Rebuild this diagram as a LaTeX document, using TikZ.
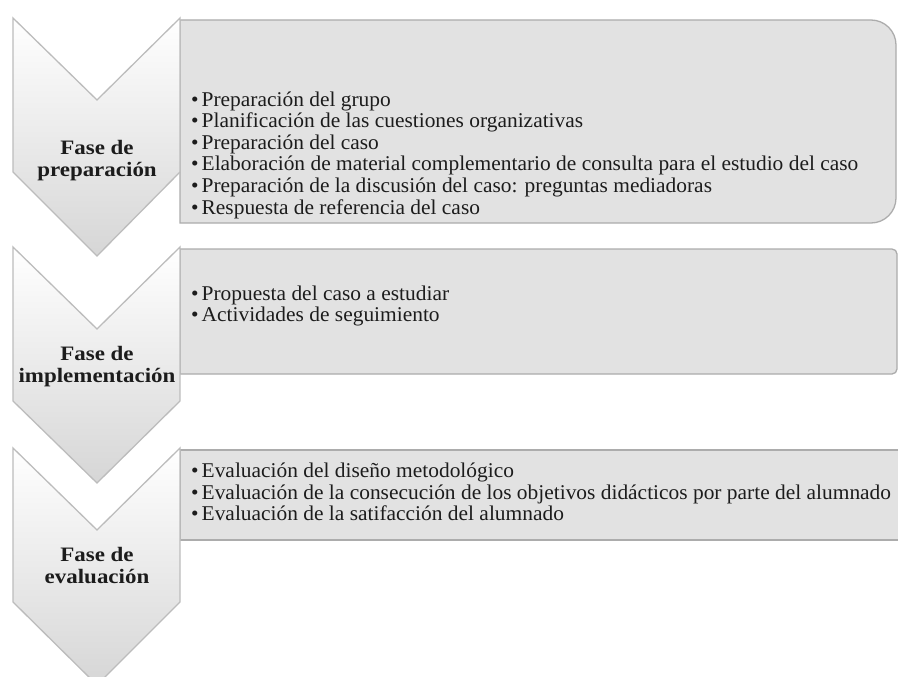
\documentclass[tikz,border=0pt]{standalone}
\usepackage{fontspec}
\setmainfont{Liberation Serif}
\newfontfamily\bodyfont[FakeStretch=1.02]{Liberation Serif}
\newfontfamily\phasefont[FakeStretch=1.12]{Liberation Serif}
\definecolor{chevline}{RGB}{188,188,188}
\definecolor{chevshade}{RGB}{214,214,214}
\definecolor{boxline}{RGB}{172,172,172}
\definecolor{boxfill}{RGB}{226,226,226}
\definecolor{ink}{RGB}{28,28,28}

\begin{document}
\begin{tikzpicture}[x=1pt,y=1pt,
    chevron/.style={draw=chevline,line width=1.3pt,line join=miter,top color=white,bottom color=chevshade},
    itembox/.style={draw=boxline,fill=boxfill,line width=1.3pt},
    phasetext/.style={font=\phasefont\bfseries\fontsize{20.5}{22}\selectfont,align=center,text=ink,inner sep=0pt},
    items/.style={font=\bodyfont\fontsize{21}{21.6}\selectfont,align=left,anchor=west,text=ink,inner sep=0pt}]
  \useasboundingbox (0,0) rectangle (898,-677);
  \clip (0,0) rectangle (898,-677);

  \draw[itembox] (180,-20) -- (871,-20) arc (90:0:25) -- (896,-198) arc (0:-90:25) -- (180,-223) -- cycle;
  \draw[itembox] (180,-249) -- (892,-249) arc (90:0:5) -- (897,-369) arc (0:-90:5) -- (180,-374) -- cycle;
  \draw[itembox] (180,-450) rectangle (915,-540);

  \draw[chevron] (13,-18) -- (97,-100) -- (180,-18) -- (180,-172) -- (97,-256) -- (13,-172) -- cycle;
  \draw[chevron] (13,-247) -- (97,-329) -- (180,-247) -- (180,-401) -- (97,-483) -- (13,-401) -- cycle;
  \draw[chevron] (13,-448) -- (97,-530) -- (180,-448) -- (180,-602) -- (97,-685) -- (13,-602) -- cycle;

  \node[phasetext] (prep) at (97,-161) {Fase de\\preparación};
  \node[phasetext] (impl) at (97,-367) {Fase de\\implementación};
  \node[phasetext] (eval) at (97,-566) {Fase de\\evaluación};

  \node[items] (prepitems) at (191,-155) {\textbullet\hspace{3pt}Preparación del grupo\\
    \textbullet\hspace{3pt}Planificación de las cuestiones organizativas\\
    \textbullet\hspace{3pt}Preparación del caso\\
    \textbullet\hspace{3pt}Elaboración de material complementario de consulta para el estudio del caso\\
    \textbullet\hspace{3pt}Preparación de la discusión del caso: preguntas mediadoras\\
    \textbullet\hspace{3pt}Respuesta de referencia del caso};
  \node[items] (implitems) at (191,-306) {\textbullet\hspace{3pt}Propuesta del caso a estudiar\\
    \textbullet\hspace{3pt}Actividades de seguimiento};
  \node[items] (evalitems) at (191,-492) {\textbullet\hspace{3pt}Evaluación del diseño metodológico\\
    \textbullet\hspace{3pt}Evaluación de la consecución de los objetivos didácticos por parte del alumnado\\
    \textbullet\hspace{3pt}Evaluación de la satifacción del alumnado};
\end{tikzpicture}
\end{document}
